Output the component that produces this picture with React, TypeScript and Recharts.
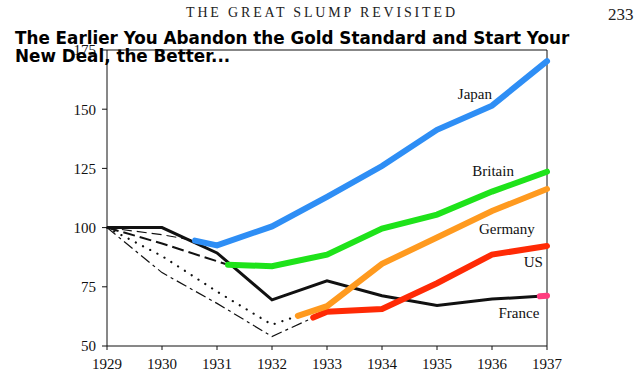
import { LineChart, Line, XAxis, YAxis, ReferenceLine, ReferenceDot } from "recharts";

type Pt = { year: number; value: number };

const years = [1929, 1930, 1931, 1932, 1933, 1934, 1935, 1936, 1937];
const yTicks = [50, 75, 100, 125, 150, 175];

// black lines = years still on gold, coloured = after leaving it
const japanGold: Pt[] = [
  { year: 1929, value: 100 },
  { year: 1930, value: 97 },
  { year: 1930.6, value: 94.5 },
];
const japanOff: Pt[] = [
  { year: 1930.6, value: 94.5 },
  { year: 1931, value: 92.5 },
  { year: 1932, value: 100.5 },
  { year: 1933, value: 113 },
  { year: 1934, value: 126 },
  { year: 1935, value: 141.3 },
  { year: 1936, value: 151.5 },
  { year: 1937, value: 170.3 },
];
const britainGold: Pt[] = [
  { year: 1929, value: 100 },
  { year: 1930, value: 93.3 },
  { year: 1931, value: 85.8 },
  { year: 1931.2, value: 84.3 },
];
const britainOff: Pt[] = [
  { year: 1931.2, value: 84.3 },
  { year: 1932, value: 83.7 },
  { year: 1933, value: 88.6 },
  { year: 1934, value: 99.6 },
  { year: 1935, value: 105.5 },
  { year: 1936, value: 115.2 },
  { year: 1937, value: 123.6 },
];
const germanyGold: Pt[] = [
  { year: 1929, value: 100 },
  { year: 1930, value: 88 },
  { year: 1931, value: 73 },
  { year: 1932, value: 59 },
  { year: 1932.47, value: 62.7 },
];
const germanyOff: Pt[] = [
  { year: 1932.47, value: 62.7 },
  { year: 1933, value: 66.8 },
  { year: 1934, value: 84.7 },
  { year: 1935, value: 95.8 },
  { year: 1936, value: 107 },
  { year: 1937, value: 116.3 },
];
const usGold: Pt[] = [
  { year: 1929, value: 100 },
  { year: 1930, value: 81 },
  { year: 1931, value: 68 },
  { year: 1932, value: 54 },
  { year: 1932.75, value: 62 },
];
const usOff: Pt[] = [
  { year: 1932.75, value: 62 },
  { year: 1933, value: 64.5 },
  { year: 1934, value: 65.6 },
  { year: 1935, value: 76.5 },
  { year: 1936, value: 88.6 },
  { year: 1937, value: 92.2 },
];
const france: Pt[] = [
  { year: 1929, value: 100 },
  { year: 1930, value: 100 },
  { year: 1931, value: 89.3 },
  { year: 1932, value: 69.5 },
  { year: 1933, value: 77.5 },
  { year: 1934, value: 71.2 },
  { year: 1935, value: 67.1 },
  { year: 1936, value: 69.8 },
  { year: 1937, value: 71.2 },
];
const franceEnd: Pt[] = [
  { year: 1936.87, value: 71 },
  { year: 1937, value: 71.2 },
];

const countryLabels = [
  { name: "Japan", year: 1935.69, value: 156.5 },
  { name: "Britain", year: 1936.02, value: 124 },
  { name: "Germany", year: 1936.27, value: 99.6 },
  { name: "US", year: 1936.75, value: 85.7 },
  { name: "France", year: 1936.49, value: 64.1 },
];

const serif = "'Liberation Serif', 'DejaVu Serif', serif";
const ink = "#111";

export default function App() {
  const tickStyle = { fill: ink, fontSize: 15, fontFamily: serif };
  const thick = { strokeWidth: 6, strokeLinecap: "round" as const, dot: false, isAnimationActive: false };
  return (
    <div style={{ position: "absolute", left: 0, top: 0, width: 640, height: 373, background: "#fff" }}>
      <LineChart width={640} height={373} margin={{ top: 50, right: 93, bottom: 0, left: 0 }}>
        <XAxis
          type="number"
          dataKey="year"
          domain={[1929, 1937]}
          ticks={years}
          height={27}
          tickSize={4}
          tickMargin={8}
          axisLine={{ stroke: ink }}
          tickLine={{ stroke: ink }}
          tick={tickStyle}
        />
        <YAxis
          type="number"
          dataKey="value"
          domain={[50, 175]}
          ticks={yTicks}
          width={107}
          tickSize={5}
          tickMargin={6}
          axisLine={{ stroke: ink }}
          tickLine={{ stroke: ink }}
          tick={tickStyle}
        />
        <ReferenceLine y={175} stroke={ink} strokeWidth={1} />
        <ReferenceLine x={1937} stroke={ink} strokeWidth={1} />

        <Line data={japanGold} dataKey="value" stroke={ink} strokeWidth={1.2} strokeDasharray="10 5" dot={false} isAnimationActive={false} />
        <Line data={britainGold} dataKey="value" stroke={ink} strokeWidth={2} strokeDasharray="12 5" dot={false} isAnimationActive={false} />
        <Line data={germanyGold} dataKey="value" stroke={ink} strokeWidth={2.2} strokeDasharray="0.1 8" strokeLinecap="round" dot={false} isAnimationActive={false} />
        <Line data={usGold} dataKey="value" stroke={ink} strokeWidth={1.2} strokeDasharray="11 4 3 4" dot={false} isAnimationActive={false} />
        <Line data={france} dataKey="value" stroke={ink} strokeWidth={3} dot={false} isAnimationActive={false} />

        <Line data={franceEnd} dataKey="value" stroke="#ff3d7f" {...thick} />
        <Line data={usOff} dataKey="value" stroke="#ff2a05" {...thick} />
        <Line data={germanyOff} dataKey="value" stroke="#ff9a1f" {...thick} />
        <Line data={britainOff} dataKey="value" stroke="#1ee31a" {...thick} />
        <Line data={japanOff} dataKey="value" stroke="#2e8ef5" {...thick} />

        {countryLabels.map((c) => (
          <ReferenceDot
            key={c.name}
            x={c.year}
            y={c.value}
            r={0}
            fill="none"
            stroke="none"
            label={{ value: c.name, position: "center", fill: ink, fontSize: 15, fontFamily: serif }}
          />
        ))}
      </LineChart>
      <svg width={640} height={373} style={{ position: "absolute", left: 0, top: 0, pointerEvents: "none" }}>
        <text x={186} y={17} fontFamily={serif} fontSize={14} fill="#222" textLength={269} lengthAdjust="spacing">
          THE GREAT SLUMP REVISITED
        </text>
        <text x={608} y={20} fontFamily={serif} fontSize={17} fill="#222">
          233
        </text>
        <text x={15} y={44} fontFamily="'DejaVu Sans', sans-serif" fontWeight="bold" fontSize={16.8} fill="#000">
          The Earlier You Abandon the Gold Standard and Start Your
        </text>
        <text x={15} y={61.7} fontFamily="'DejaVu Sans', sans-serif" fontWeight="bold" fontSize={16.8} fill="#000">
          New Deal, the Better...
        </text>
      </svg>
    </div>
  );
}
